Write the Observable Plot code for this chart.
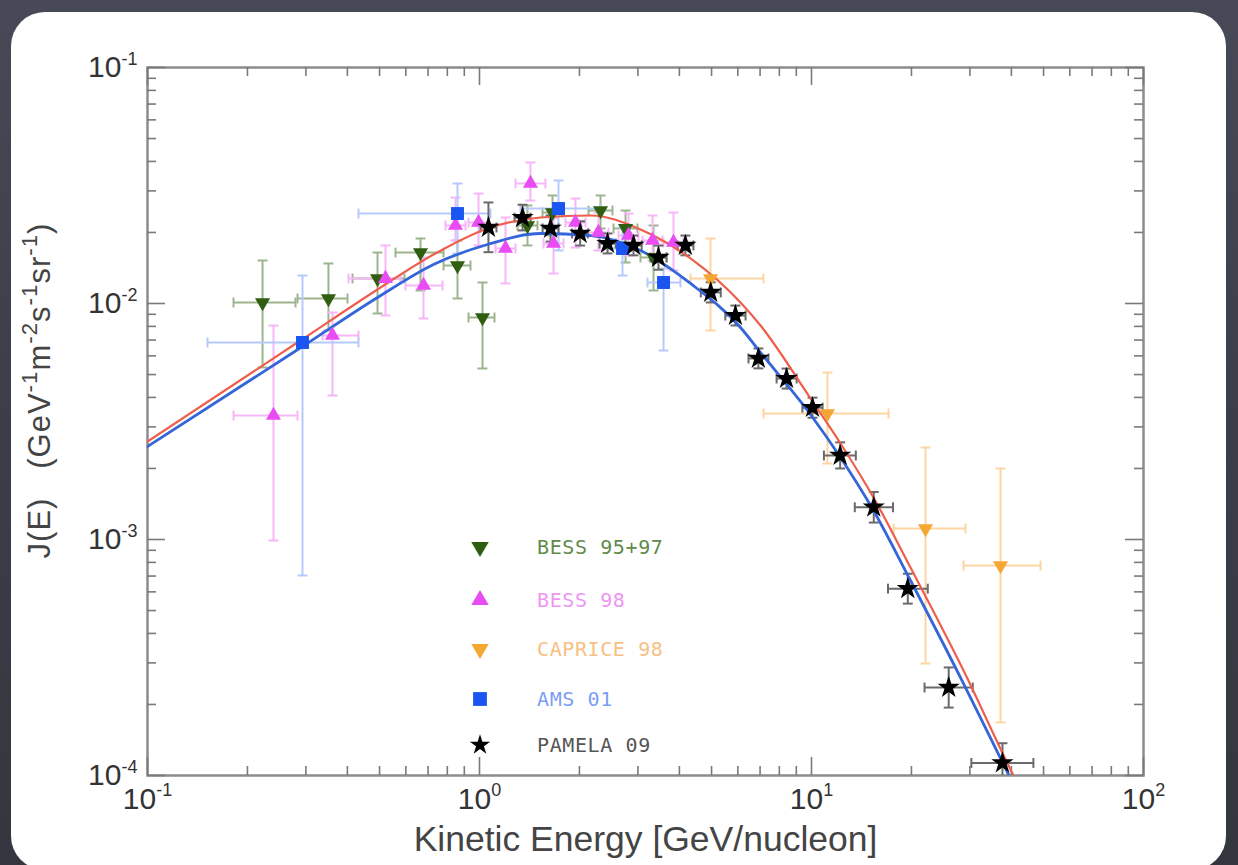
<!DOCTYPE html>
<html><head><meta charset="utf-8">
<script src="https://cdn.jsdelivr.net/npm/d3@7"></script>
<script src="https://cdn.jsdelivr.net/npm/@observablehq/plot@0.6"></script>
<style>
html,body{margin:0;padding:0;width:1238px;height:865px;overflow:hidden;background:linear-gradient(180deg,#474a56 0%,#3b3e49 50%,#34363f 100%);}
#card{position:absolute;left:11px;top:12px;width:1215px;height:858px;background:#fff;border-radius:34px;}
#chart{position:absolute;left:0;top:0;}
#legend{position:absolute;left:0;top:0;}
</style></head><body>
<div id="card"></div><div id="chart"></div><svg id="legend" width="1238" height="865"></svg>
<script>
// ---- tick values ----
const majorX = [0.1, 1, 10, 100];
const minorX = [0.2,0.3,0.4,0.5,0.6,0.7,0.8,0.9, 2,3,4,5,6,7,8,9, 20,30,40,50,60,70,80,90];
const majorY = [1e-4, 1e-3, 1e-2, 1e-1];
const minorY = [2e-4,3e-4,4e-4,5e-4,6e-4,7e-4,8e-4,9e-4, 2e-3,3e-3,4e-3,5e-3,6e-3,7e-3,8e-3,9e-3, 2e-2,3e-2,4e-2,5e-2,6e-2,7e-2,8e-2,9e-2];

// ---- model curves ----
const blueE = [0.1, 0.2930, 0.4930, 0.7268, 1.0571, 1.5264, 2.1594, 3.0549, 4.3207, 6.1112, 7.0219, 9.931, 12.228, 15.37, 19.87, 28.70, 38.40, 40.30];
const blueJ = [0.002478, 0.006573, 0.010602, 0.014633, 0.017783, 0.019796, 0.019411, 0.016777, 0.012157, 0.007912, 0.0062, 0.003386, 0.002226, 0.001327, 0.0006704, 0.0002453, 0.0001071, 0.0000934];
const redE = [0.1, 0.2889, 0.4930, 0.7268, 1.0571, 1.5264, 2.1594, 3.0549, 4.3207, 6.1112, 7.0219, 9.931, 12.228, 15.37, 19.87, 28.70, 40.30, 42.62];
const redJ = [0.002602, 0.006968, 0.011464, 0.016124, 0.020793, 0.023146, 0.023603, 0.020592, 0.015516, 0.010097, 0.008066, 0.003958, 0.002551, 0.001507, 0.0007607, 0.0002786, 0.0001020, 0.0000873];

// ---- BESS 95+97 ----
const bessAE   = [0.2221, 0.3508, 0.4930, 0.6643, 0.8585, 1.0210, 1.395, 1.659, 2.315, 2.754, 3.343];
const bessAJ   = [0.010097, 0.010500, 0.012759, 0.016444, 0.014488, 0.008723, 0.021408, 0.024291, 0.024770, 0.020793, 0.015670];
const bessAJlo = [0.005356, 0.007684, 0.009071, 0.011354, 0.010500, 0.005304, 0.017614, 0.019411, 0.020793, 0.014917, 0.011354];
const bessAJhi = [0.015216, 0.014777, 0.016444, 0.018854, 0.018490, 0.012274, 0.026020, 0.028685, 0.028685, 0.024770, 0.021408];
const bessAElo = [0.1816, 0.2830, 0.4145, 0.5585, 0.7792, 0.9266, 1.302, 1.548, 2.130, 2.533, 3.055];
const bessAEhi = [0.2791, 0.4004, 0.5943, 0.7792, 0.9395, 1.1097, 1.495, 1.778, 2.515, 2.991, 3.659];

// ---- BESS 98 ----
const bessBE   = [0.2396, 0.3607, 0.5210, 0.6782, 0.8466, 0.9931, 1.1976, 1.4238, 1.6711, 1.9459, 2.2824, 2.8105, 3.3197, 3.8397];
const bessBJ   = [0.003353, 0.007318, 0.012759, 0.011920, 0.021408, 0.022040, 0.017100, 0.032251, 0.017955, 0.022040, 0.019988, 0.019411, 0.018490, 0.018133];
const bessBJlo = [0.0009903, 0.004075, 0.008897, 0.008640, 0.018490, 0.017614, 0.012157, 0.027312, 0.013399, 0.017269, 0.016777, 0.015966, 0.015216, 0.013796];
const bessBJhi = [0.008066, 0.009160, 0.017614, 0.015670, 0.028120, 0.029236, 0.023146, 0.039592, 0.022921, 0.027847, 0.024291, 0.024055, 0.023603, 0.024291];
const bessBElo = [0.1816, 0.3366, 0.4032, 0.5985, 0.7900, 0.9266, 1.1173, 1.2836, 1.5589, 1.8155, 2.130, 2.622, 3.097, 3.583];
const bessBEhi = [0.2830, 0.4320, 0.5781, 0.7739, 0.9074, 1.0644, 1.2836, 1.5801, 1.7912, 2.0857, 2.446, 3.012, 3.558, 4.117];

// ---- CAPRICE 98 ----
const capE   = [4.9641, 11.17, 22.05, 37.10];
const capJ   = [0.012759, 0.003419, 0.0011133, 0.0007757];
const capJlo = [0.007684, 0.002099, 0.0002982, 0.0001678];
const capJhi = [0.018854, 0.005099, 0.0024535, 0.0019989];
const capElo = [4.3207, 7.168, 17.66, 28.70];
const capEhi = [7.168, 17.06, 29.10, 48.96];

// ---- AMS 01 ----
const amsE   = [0.2930, 0.8585, 1.7298, 2.6962, 3.5829];
const amsJ   = [0.006837, 0.024055, 0.025264, 0.017100, 0.012274];
const amsJlo = [0.000704, 0.016287, 0.016777, 0.013138, 0.006322];
const amsJhi = [0.013138, 0.032251, 0.033208, 0.020994, 0.014068];
const amsElo = [0.1516, 0.4320, 1.3289, 2.4293, 3.2063];
const amsEhi = [0.4320, 1.079, 2.315, 2.991, 4.0305];

// ---- PAMELA 09 ----
const pamE   = [1.064, 1.348, 1.637, 2.01, 2.43, 2.91, 3.46, 4.17, 4.97, 5.90, 6.92, 8.41, 10.07, 12.2, 15.4, 19.5, 25.9, 37.6];
const pamJ   = [0.0210, 0.0231, 0.0208, 0.0198, 0.01795, 0.01762, 0.01567, 0.01762, 0.01114, 0.00889, 0.00585, 0.00481, 0.00362, 0.00227, 0.00137, 0.000619, 0.000236, 0.000113];
const pamJlo = [0.0165, 0.0204, 0.0183, 0.0176, 0.0163, 0.0160, 0.0139, 0.0160, 0.0101, 0.00807, 0.00531, 0.00436, 0.00328, 0.00200, 0.00118, 0.000535, 0.000194, 0.000093];
const pamJhi = [0.0268, 0.0262, 0.0236, 0.0223, 0.0198, 0.0194, 0.0176, 0.0194, 0.0123, 0.00980, 0.00645, 0.00530, 0.00399, 0.00258, 0.00159, 0.000716, 0.000287, 0.000137];
const pamElo = [1.007, 1.275, 1.549, 1.90, 2.30, 2.75, 3.27, 3.95, 4.64, 5.50, 6.46, 7.85, 9.39, 10.9, 13.5, 17.0, 21.9, 30.3];
const pamEhi = [1.125, 1.425, 1.730, 2.12, 2.57, 3.08, 3.66, 4.41, 5.33, 6.33, 7.42, 9.02, 10.80, 13.6, 17.6, 22.4, 30.6, 46.6];

const seriesNames = ["BESS 95+97", "BESS 98", "CAPRICE 98", "AMS 01", "PAMELA 09"];

// ---- build tables ----
const rows = (E,J,Jlo,Jhi,Elo,Ehi) => E.map((e,i)=>({E:e,J:J[i],Jlo:Jlo[i],Jhi:Jhi[i],Elo:Elo[i],Ehi:Ehi[i]}));
const curve = (E,J) => E.map((e,i)=>({E:e,J:J[i]}));
const bessA = rows(bessAE,bessAJ,bessAJlo,bessAJhi,bessAElo,bessAEhi);
const bessB = rows(bessBE,bessBJ,bessBJlo,bessBJhi,bessBElo,bessBEhi);
const cap   = rows(capE,capJ,capJlo,capJhi,capElo,capEhi);
const ams   = rows(amsE,amsJ,amsJlo,amsJhi,amsElo,amsEhi);
const pam   = rows(pamE,pamJ,pamJlo,pamJhi,pamElo,pamEhi);

// ---- symbols ----
const S3 = Math.sqrt(3);
const triDown = {draw(ctx,size){const y=Math.sqrt(size/(S3*3)); ctx.moveTo(0,2*y); ctx.lineTo(-S3*y,-y); ctx.lineTo(S3*y,-y); ctx.closePath();}};
const hcap = {draw(ctx,size){const r=Math.sqrt(size)/2; ctx.moveTo(-r,0); ctx.lineTo(r,0);}};
const vcap = {draw(ctx,size){const r=Math.sqrt(size)/2; ctx.moveTo(0,-r); ctx.lineTo(0,r);}};

const W=1238, H=865, ML=147, MR=95, MT=67, MB=90;
const PW=W-ML-MR, PH=H-MT-MB;

const styles = [
  {data:bessA, sym:triDown, r:5.6, fill:"#2f5e10", err:"#9db58e", text:"#5f8a4a", lr:6.5},
  {data:bessB, sym:"triangle", r:5.6, fill:"#e84cf2", err:"#f6b6f8", text:"#ef95f3", lr:6.5},
  {data:cap, sym:triDown, r:5.6, fill:"#f5a733", err:"#fcd6a2", text:"#f7c083", lr:6.5},
  {data:ams, sym:"square", r:7.3, fill:"#1a55f2", err:"#b5cafb", text:"#7a9ef5", lr:7.8},
  {data:pam, sym:"star", r:7, fill:"#000000", err:"#6a6a6a", text:"#555555", lr:6.4}
];

function errMarks(data, color){
  const o = {stroke:color, strokeWidth:2, clip:true};
  const c = {stroke:color, strokeWidth:2, fill:"none", r:5.6, clip:true};
  return [
    Plot.link(data,{x1:"Elo",x2:"Ehi",y1:"J",y2:"J",...o}),
    Plot.link(data,{x1:"E",x2:"E",y1:"Jlo",y2:"Jhi",...o}),
    Plot.dot(data,{x:"E",y:"Jlo",symbol:hcap,...c}),
    Plot.dot(data,{x:"E",y:"Jhi",symbol:hcap,...c}),
    Plot.dot(data,{x:"Elo",y:"J",symbol:vcap,...c}),
    Plot.dot(data,{x:"Ehi",y:"J",symbol:vcap,...c})
  ];
}

const tickStroke = {stroke:"#7a7a7a", strokeWidth:1.6};
const supFmt = d => "10^" + Math.round(Math.log10(d));

const chart = Plot.plot({
  width: W, height: H,
  marginLeft: ML, marginRight: MR, marginTop: MT, marginBottom: MB,
  style: {background:"transparent", overflow:"visible", fontFamily:"'Liberation Sans', Arial, Helvetica, sans-serif"},
  x: {type:"log", domain:[0.1,100]},
  y: {type:"log", domain:[1e-4,1e-1]},
  marks: [
    Plot.frame({stroke:"#8c8c8c", strokeWidth:2.5}),
    Plot.tickX(majorX, {insetTop: PH-18, ...tickStroke}),
    Plot.tickX(majorX, {insetBottom: PH-18, ...tickStroke}),
    Plot.tickX(minorX, {insetTop: PH-9, ...tickStroke}),
    Plot.tickX(minorX, {insetBottom: PH-9, ...tickStroke}),
    Plot.tickY(majorY, {insetRight: PW-18, ...tickStroke}),
    Plot.tickY(majorY, {insetLeft: PW-18, ...tickStroke}),
    Plot.tickY(minorY, {insetRight: PW-9, ...tickStroke}),
    Plot.tickY(minorY, {insetLeft: PW-9, ...tickStroke}),
    ...styles.slice(0,4).flatMap(s => errMarks(s.data, s.err)),
    ...errMarks(pam, "#6a6a6a"),
    Plot.line(curve(blueE,blueJ), {x:"E", y:"J", stroke:"#3566d9", strokeWidth:2.8, curve:"monotone-x", clip:true}),
    Plot.line(curve(redE,redJ), {x:"E", y:"J", stroke:"#ee5e4c", strokeWidth:2.2, curve:"monotone-x", clip:true}),
    ...styles.map(s => Plot.dot(s.data, {x:"E", y:"J", symbol:s.sym, r:s.r, fill:s.fill, stroke:"none"})),
    Plot.axisX({ticks:majorX, tickSize:0, tickPadding:12, tickFormat:supFmt, fontSize:30, fill:"#333", label:null}),
    Plot.axisY({ticks:majorY, tickSize:0, tickPadding:10, tickFormat:supFmt, fontSize:30, fill:"#333", label:null}),
    Plot.text(["Kinetic Energy [GeV/nucleon]"], {text:d=>d, frameAnchor:"bottom", dy:75, fontSize:35.5, fill:"#444"}),
    Plot.text(["J(E)\u00a0\u00a0\u00a0(GeV^-1m^-2s^-1sr^-1)"], {text:d=>d, frameAnchor:"left", textAnchor:"middle", dx:-107, dy:-31, rotate:-90, fontSize:31, fill:"#444"})
  ]
});
document.getElementById("chart").appendChild(chart);

// superscript post-processing
const svgns = "http://www.w3.org/2000/svg";
function superscriptify(el, ratio){
  const s = el.textContent;
  if (!s.includes("^")) return;
  let fs = parseFloat(getComputedStyle(el).fontSize) || 30;
  while (el.firstChild) el.removeChild(el.firstChild);
  const re = /\^(-?\d+)/g; let last = 0, m, shifted = false;
  const add = (str, sup) => {
    const t = document.createElementNS(svgns, "tspan");
    t.textContent = str;
    if (sup) { t.setAttribute("font-size", (fs*ratio).toFixed(1)); t.setAttribute("dy", (-fs*0.42).toFixed(1)); shifted = true; }
    else if (shifted) { t.setAttribute("dy", (fs*0.42).toFixed(1)); shifted = false; }
    el.appendChild(t);
  };
  while ((m = re.exec(s))) { if (m.index > last) add(s.slice(last, m.index), false); add(m[1], true); last = re.lastIndex; }
  if (last < s.length) add(s.slice(last), false);
}
chart.querySelectorAll("text").forEach(el => {
  const isTitle = el.textContent.startsWith("J(E)");
  if (isTitle) el.setAttribute("letter-spacing", "1");
  superscriptify(el, isTitle ? 0.72 : 0.6);
});

// legend (inside plot area)
const leg = d3.select("#legend");
const legX = 480, txtX = 537, legY = [547, 600, 649, 699, 745];
styles.forEach((s, i) => {
  const type = typeof s.sym === "string" ? ({triangle:d3.symbolTriangle, square:d3.symbolSquare, star:d3.symbolStar})[s.sym] : s.sym;
  leg.append("path").attr("d", d3.symbol().type(type).size(Math.PI*s.lr*s.lr)())
    .attr("transform", `translate(${legX},${legY[i]})`).attr("fill", s.fill);
  leg.append("text").attr("x", txtX).attr("y", legY[i]).attr("dy", "0.35em")
    .attr("font-family", "'DejaVu Sans Mono', 'Liberation Mono', monospace").attr("font-size", 20)
    .attr("letter-spacing", 0.6).attr("fill", s.text).text(seriesNames[i]);
});
</script></body></html>
